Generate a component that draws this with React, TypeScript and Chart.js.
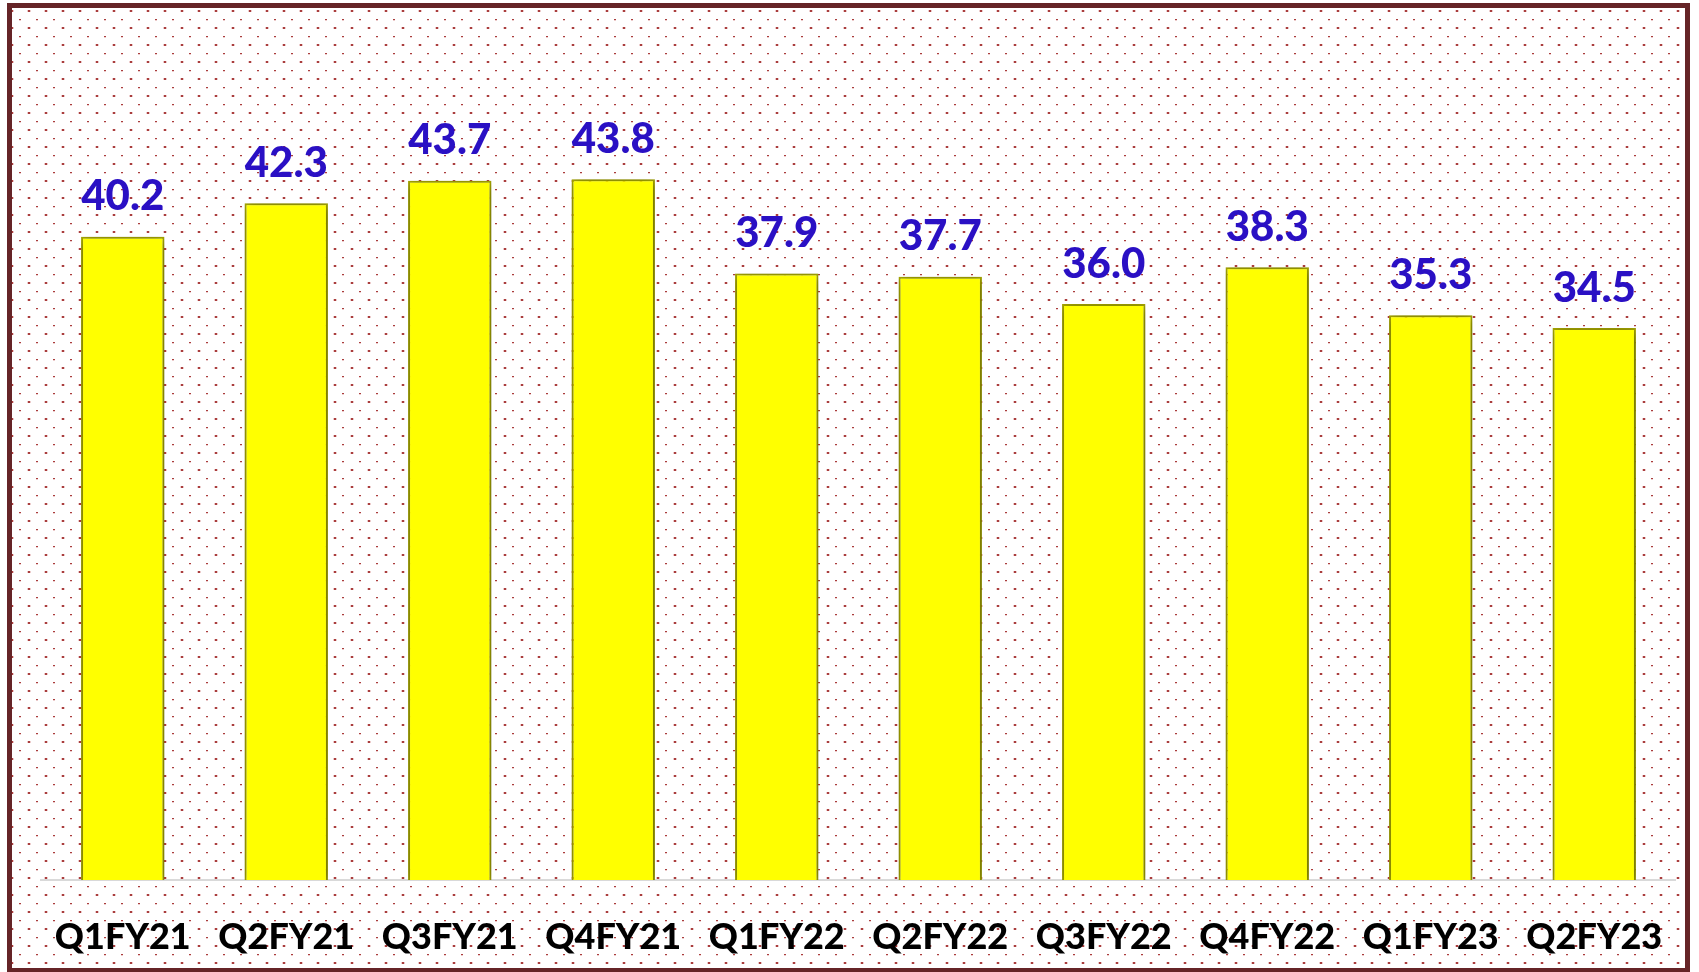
import React, { useEffect, useRef } from "react";
import { Chart, registerables } from "chart.js";

Chart.register(...registerables);

const categories = ["Q1FY21", "Q2FY21", "Q3FY21", "Q4FY21", "Q1FY22", "Q2FY22", "Q3FY22", "Q4FY22", "Q1FY23", "Q2FY23"];
const values = [40.2, 42.3, 43.7, 43.8, 37.9, 37.7, 36.0, 38.3, 35.3, 34.5];
const valueLabels = values.map((v) => v.toFixed(1));

const W = 1699;
const H = 972;

export default function App() {
  const ref = useRef<HTMLCanvasElement | null>(null);

  useEffect(() => {
    const canvas = ref.current;
    if (!canvas) return;

    const tile = document.createElement("canvas");
    tile.width = 17;
    tile.height = 17;
    const tctx = tile.getContext("2d")!;
    tctx.fillStyle = "rgba(160,40,40,0.9)";
    tctx.fillRect(11, 10, 2, 2);
    tctx.fillRect(2, 2, 2, 1);
    tctx.fillStyle = "rgba(200,110,110,0.35)";
    tctx.fillRect(10, 10, 1, 2);
    tctx.fillRect(13, 10, 1, 2);
    tctx.fillRect(2, 3, 2, 1);

    const bgPlugin = {
      id: "bgPattern",
      beforeDraw(chart: any) {
        const ctx = chart.ctx as CanvasRenderingContext2D;
        ctx.save();
        ctx.fillStyle = "#ffffff";
        ctx.fillRect(0, 0, W, H);
        const pat = ctx.createPattern(tile, "repeat");
        if (pat) {
          ctx.fillStyle = pat;
          ctx.fillRect(12, 8, 1673, 962);
        }
        ctx.strokeStyle = "#652427";
        ctx.lineWidth = 5;
        ctx.strokeRect(9.5, 5.5, 1678, 965);
        ctx.restore();
      },
    };

    const shadowPlugin = {
      id: "barShadow",
      beforeDatasetsDraw(chart: any) {
        const ctx = chart.ctx as CanvasRenderingContext2D;
        ctx.save();
        ctx.shadowColor = "rgba(0,0,0,0.45)";
        ctx.shadowBlur = 10;
        ctx.shadowOffsetX = 1;
        ctx.shadowOffsetY = 2;
      },
      afterDatasetsDraw(chart: any) {
        chart.ctx.restore();
      },
    };

    const labelPlugin = {
      id: "valueLabels",
      afterDraw(chart: any) {
        const ctx = chart.ctx as CanvasRenderingContext2D;
        const meta = chart.getDatasetMeta(0);
        ctx.save();
        ctx.fillStyle = "#2A10C4";
        ctx.font = "900 42px Lato";
        ctx.textAlign = "center";
        ctx.textBaseline = "middle";
        meta.data.forEach((bar: any, i: number) => {
          ctx.fillText(valueLabels[i], bar.x, bar.y - 40);
        });
        ctx.restore();
      },
    };

    const chart = new Chart(canvas, {
      type: "bar",
      data: {
        labels: categories,
        datasets: [
          {
            data: values,
            backgroundColor: "#FFFF00",
            borderColor: "#A8A800",
            borderWidth: 2,
            barPercentage: 0.51,
            categoryPercentage: 1.0,
          },
        ],
      },
      options: {
        responsive: false,
        animation: false,
        devicePixelRatio: 1,
        layout: { padding: { left: 41, right: 16, top: 80, bottom: 0 } },
        plugins: {
          legend: { display: false },
          tooltip: { enabled: false },
        },
        scales: {
          y: {
            display: false,
            min: 0,
            max: 50,
          },
          x: {
            grid: { display: false, drawTicks: false },
            border: { display: true, color: "#D9D9D9", width: 2 },
            ticks: {
              color: "#000000",
              font: { family: "Lato", weight: "900", size: 36 },
              padding: 36,
              maxRotation: 0,
              autoSkip: false,
            },
            afterFit(scale: any) {
              scale.height = 92;
            },
          },
        },
      },
      plugins: [bgPlugin, shadowPlugin, labelPlugin],
    });

    return () => chart.destroy();
  }, []);

  return (
    <div style={{ position: "fixed", left: 0, top: 0, width: W, height: H }}>
      <canvas ref={ref} width={W} height={H} style={{ display: "block", width: W, height: H }} />
    </div>
  );
}
